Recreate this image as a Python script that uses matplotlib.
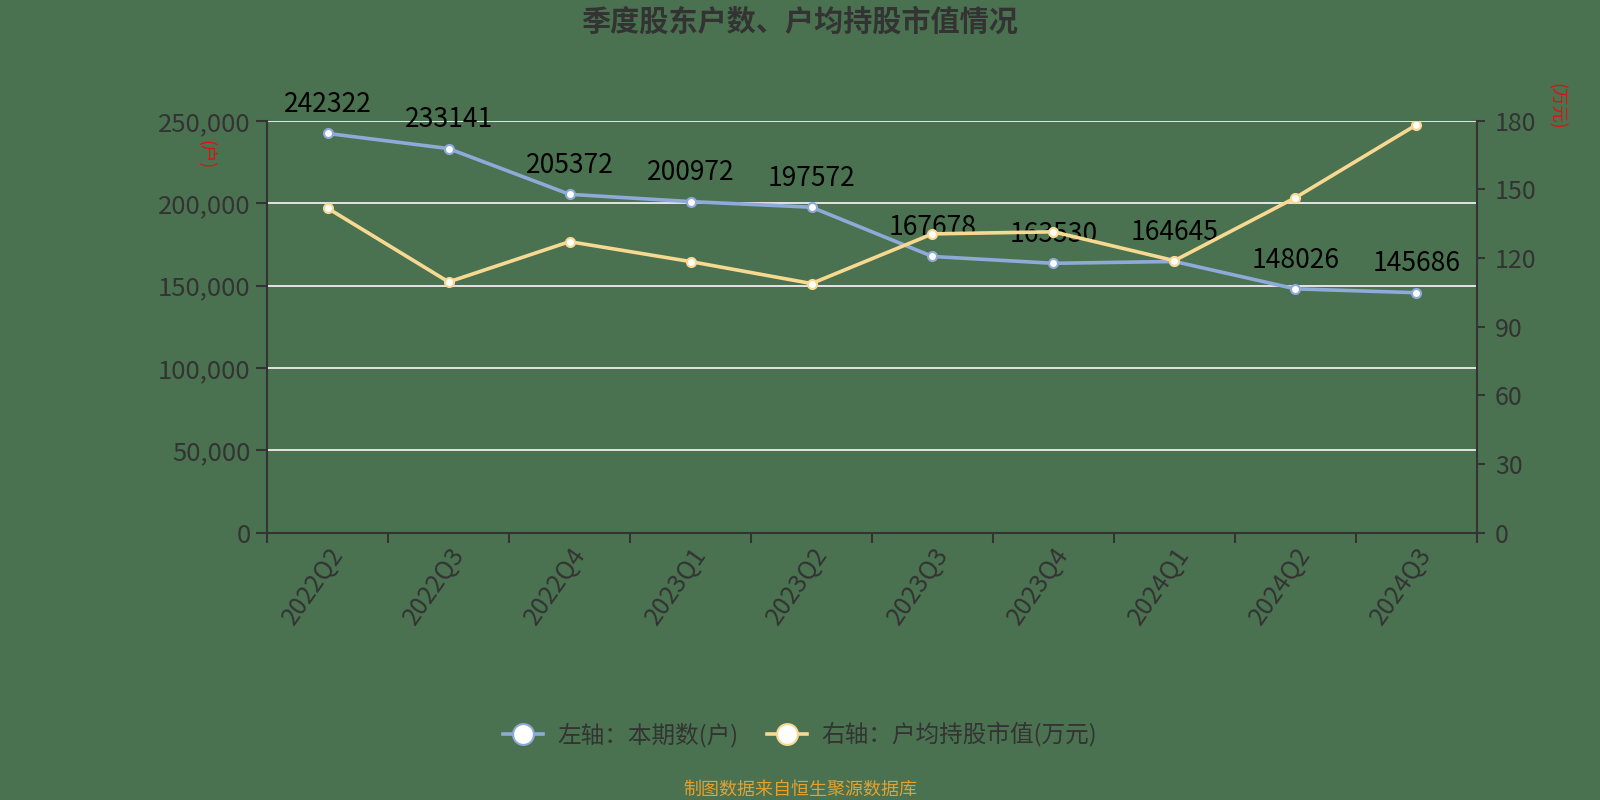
import numpy as np
import matplotlib
matplotlib.use('Agg')
import matplotlib.pyplot as plt
from matplotlib.lines import Line2D
from matplotlib.ticker import FuncFormatter, FixedLocator

plt.rcParams['font.family'] = ['Noto Sans CJK SC', 'DejaVu Sans']

# 数据
quarters = ['2022Q2', '2022Q3', '2022Q4', '2023Q1', '2023Q2',
            '2023Q3', '2023Q4', '2024Q1', '2024Q2', '2024Q3']
holders = [242322, 233141, 205372, 200972, 197572,
           167678, 163530, 164645, 148026, 145686]
avg_value = [141.8, 109.6, 127.2, 118.5, 108.9,
             130.6, 131.5, 118.9, 146.4, 178.2]

bg = '#4a7250'
blue = '#8eaad8'
yellow = '#f7d992'
dark = '#333333'

fig = plt.figure(figsize=(16, 8), dpi=100, facecolor=bg)
ax = fig.add_axes([0.167, 0.334, 0.756, 0.515])
ax.set_facecolor(bg)
ax2 = ax.twinx()

x = np.arange(len(quarters))

# 左轴：股东户数
ax.plot(x, holders, color=blue, lw=2.6, marker='o', ms=6.5,
        mfc='white', mec=blue, mew=1.5, zorder=4)
for xi, v in zip(x, holders):
    ax.annotate(str(v), (xi, v), xytext=(0, 11), textcoords='offset points',
                ha='center', va='bottom', fontsize=19,
                color='black', zorder=6)

# 右轴：户均持股市值
ax2.plot(x, avg_value, color=yellow, lw=2.6, marker='o', ms=6.5,
         mfc='white', mec=yellow, mew=1.5, zorder=3)

ax.set_xlim(-0.5, len(quarters) - 0.5)
ax.set_ylim(0, 250000)
ax2.set_ylim(0, 180)

ax.set_yticks(np.arange(0, 250001, 50000))
ax.yaxis.set_major_formatter(FuncFormatter(lambda v, p: f'{int(v):,}'))
ax2.set_yticks(np.arange(0, 181, 30))

ax.grid(axis='y', color='#e4e4e4', lw=1.4)
ax.set_axisbelow(True)

# x 轴：刻度在分界处，标签在中间
ax.xaxis.set_major_locator(FixedLocator(np.arange(-0.5, len(quarters), 1)))
ax.xaxis.set_major_formatter(FuncFormatter(lambda v, p: ''))
ax.xaxis.set_minor_locator(FixedLocator(x))
ax.set_xticklabels(quarters, minor=True)
ax.tick_params(axis='x', which='major', length=7, width=1.5, color=dark)
ax.tick_params(axis='x', which='minor', length=0, pad=7)
for lbl in ax.get_xticklabels(minor=True):
    lbl.set_rotation(55)
    lbl.set_ha('right')
    lbl.set_va('top')
    lbl.set_rotation_mode('anchor')
    lbl.set_fontsize(18)
    lbl.set_color(dark)

ax.tick_params(axis='y', length=8, width=1.5, color=dark, pad=4,
               labelsize=18.5, labelcolor=dark)
ax2.tick_params(axis='y', length=6, width=1.5, color=dark, pad=7,
                labelsize=18, labelcolor=dark)

for a in (ax, ax2):
    for s in a.spines.values():
        s.set_visible(False)
ax.spines['left'].set_visible(True)
ax.spines['bottom'].set_visible(True)
ax2.spines['right'].set_visible(True)
for s in (ax.spines['left'], ax.spines['bottom'], ax2.spines['right']):
    s.set_color(dark)
    s.set_linewidth(1.5)

# 单位
fig.text(205 / 1600, 1 - 155 / 800, '(户)', color='#e01010', fontsize=12.5,
         rotation=-90, ha='center', va='center')
fig.text(1556 / 1600, 1 - 106 / 800, '(万元)', color='#e01010', fontsize=12.5,
         rotation=-90, ha='center', va='center')

fig.text(0.5, 1 - 22 / 800, '季度股东户数、户均持股市值情况', ha='center',
         va='center', fontsize=21, fontweight='bold', color=dark)

handles = [
    Line2D([], [], color=blue, lw=2.6, marker='o', ms=15, mfc='white',
           mec=blue, mew=1.5),
    Line2D([], [], color=yellow, lw=2.6, marker='o', ms=15, mfc='white',
           mec=yellow, mew=1.5),
]
fig.legend(handles, ['左轴：本期数(户)', '右轴：户均持股市值(万元)'],
           loc='center', bbox_to_anchor=(0.5, 1 - 735 / 800), ncol=2,
           frameon=False, fontsize=17, labelcolor=dark, handlelength=1.7,
           handletextpad=0.6, columnspacing=1.2)

fig.text(0.5, 1 - 790 / 800, '制图数据来自恒生聚源数据库', ha='center',
         va='center', fontsize=13, color='#e3a12f')

fig.savefig('out.png', dpi=100, facecolor=bg)
